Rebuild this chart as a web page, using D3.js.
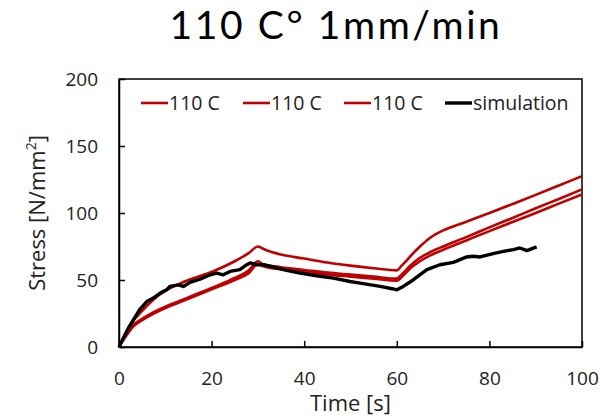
<!DOCTYPE html>
<html>
<head>
<meta charset="utf-8">
<script src="https://cdn.jsdelivr.net/npm/d3@7"></script>
<style>
  html, body { margin: 0; padding: 0; background: #fff; }
  svg { display: block; font-family: "Open Sans", Lato, sans-serif; }
</style>
</head>
<body>
<svg id="chart" width="614" height="418"></svg>
<script>
// ---- data ----
const title = "110 C° 1mm/min";
const xLabel = "Time [s]";
const yLabel = "Stress [N/mm";
const xTicks = [0, 20, 40, 60, 80, 100];
const yTicks = [0, 50, 100, 150, 200];
const seriesNames = ["110 C", "110 C", "110 C", "simulation"];

const redA = [
  [0,0],[1,7],[2,13],[3,19],[5,27],[7,34],[10,42],[13,47],[15,50],[20,56],[25,64],[28,70],[30,75],
  [31,73.5],[32,72],[35,69],[40,66],[45,63],[50,60.7],[55,58.8],[60,57.2],
  [61,60.5],[62,64],[63,68],[65,75],[67,81],[70,87],[75,93.5],[80,100],[85,106.7],[90,113.5],[95,120.5],[100,127.5]
];
const redB = [
  [0,0],[1,6],[2,11],[3,16],[5,21],[7,25],[10,30],[15,37],[20,44],[25,51.5],[28,57],[30,64],
  [31,62],[35,59.5],[40,57.5],[45,55.5],[50,54],[55,52.5],[60,51],
  [61,54],[63,61],[65,66.5],[67,70.5],[70,75],[75,82],[80,89.3],[85,96.3],[90,103.5],[95,110.5],[100,117.6]
];
const redC = [
  [0,0],[1,5.5],[2,10.5],[3,15],[5,20],[7,24],[10,29],[15,36],[20,43],[25,50],[28,55],[30,62],
  [31,60.5],[35,58],[40,56],[45,54],[50,52.5],[55,51],[60,49.5],
  [61,52],[63,59],[65,64],[67,68],[70,72.5],[75,79.5],[80,86.5],[85,93.3],[90,100],[95,107],[100,113.8]
];
const simulation = [
  [0,0],[1,7],[2,14],[3.1,20.2],[4.5,28],[6.0,33.9],[7.4,36.5],[8.9,40.2],[10.3,42.7],[11.0,45.2],
  [12.8,46.4],[13.9,45.2],[15.3,48.2],[17.5,50.7],[19.7,53.9],[21.1,55.2],[22.5,53.9],[24.0,56.4],
  [26.1,57.7],[27.6,61.4],[28.3,62.7],[29.7,61.4],[31.2,61.4],[33.3,59.7],[36.2,57.2],[39.1,55.2],
  [42.7,53.2],[46.3,51.4],[49.9,48.9],[52.1,47.7],[56.4,45.2],[59.0,43.5],[60.0,42.7],[61.4,45.2],
  [63.6,50.2],[66.5,57.7],[69.3,61.4],[72.2,63.2],[75.1,67.2],[76.5,67.7],[78.0,67.2],[80.8,69.7],
  [83.0,71.4],[85.2,72.7],[86.6,73.9],[88.1,71.9],[90.2,74.7]
];

// ---- layout ----
const W = 614, H = 418;
const margin = {left: 119, top: 79, right: 32, bottom: 71};
const iw = W - margin.left - margin.right;
const ih = H - margin.top - margin.bottom;

const svg = d3.select("#chart");
const x = d3.scaleLinear().domain([0, 100]).range([0, iw]);
const y = d3.scaleLinear().domain([0, 200]).range([ih, 0]);

svg.append("text")
  .attr("x", 336).attr("y", 38.5)
  .attr("text-anchor", "middle")
  .attr("font-family", "Lato, 'Open Sans', sans-serif")
  .attr("font-size", 39)
  .attr("letter-spacing", 2.6)
  .attr("fill", "#000")
  .text(title);

const g = svg.append("g").attr("transform", `translate(${margin.left},${margin.top})`);

// frame
g.append("rect").attr("x", 0).attr("y", 0).attr("width", iw).attr("height", ih)
  .attr("fill", "none").attr("stroke", "#000").attr("stroke-width", 1.5);

// axes (ticks inward)
const xAxis = g.append("g").attr("transform", `translate(0,${ih})`)
  .call(d3.axisBottom(x).tickValues(xTicks).tickSizeInner(-6).tickSizeOuter(0).tickPadding(25));
const yAxis = g.append("g")
  .call(d3.axisLeft(y).tickValues(yTicks).tickSizeInner(-6).tickSizeOuter(0).tickPadding(21));
[xAxis, yAxis].forEach(a => {
  a.select(".domain").attr("stroke", "#000").attr("stroke-width", 1.5);
  a.selectAll(".tick line").attr("stroke", "#000").attr("stroke-width", 1.5);
  a.selectAll(".tick text").attr("font-size", 19).attr("fill", "#222").attr("font-family", "'Open Sans', Lato, sans-serif");
});

const line = d3.line().x(d => x(d[0])).y(d => y(d[1])).curve(d3.curveMonotoneX);
const red = "#c00000";
[redC, redB, redA].forEach(s => {
  g.append("path").datum(s).attr("d", line)
    .attr("fill", "none").attr("stroke", red).attr("stroke-width", 2.6).attr("stroke-linejoin", "round");
});
g.append("path").datum(simulation).attr("d", d3.line().x(d => x(d[0])).y(d => y(d[1])))
  .attr("fill", "none").attr("stroke", "#000").attr("stroke-width", 3.4).attr("stroke-linejoin", "round");

// legend
const legX = [22, 124, 225, 326];
const legend = g.append("g").attr("transform", "translate(0,24)");
seriesNames.forEach((name, i) => {
  const isSim = i === 3;
  legend.append("line").attr("x1", legX[i]).attr("x2", legX[i] + 27).attr("y1", 0).attr("y2", 0)
    .attr("stroke", isSim ? "#000" : red).attr("stroke-width", isSim ? 3.4 : 2.6);
  legend.append("text").attr("x", legX[i] + 28).attr("y", 0).attr("dy", "0.35em")
    .attr("font-size", 19.5).attr("fill", "#222").text(name);
});

// axis titles
svg.append("text").attr("x", margin.left + iw / 2).attr("y", 411)
  .attr("text-anchor", "middle").attr("font-size", 22).attr("fill", "#222").text(xLabel);
const yt = svg.append("text")
  .attr("transform", `translate(45,${margin.top + ih / 2}) rotate(-90)`)
  .attr("text-anchor", "middle").attr("font-size", 22).attr("fill", "#222");
yt.append("tspan").text(yLabel);
yt.append("tspan").attr("baseline-shift", "super").attr("font-size", 14).text("2");
yt.append("tspan").text("]");
</script>
</body>
</html>
